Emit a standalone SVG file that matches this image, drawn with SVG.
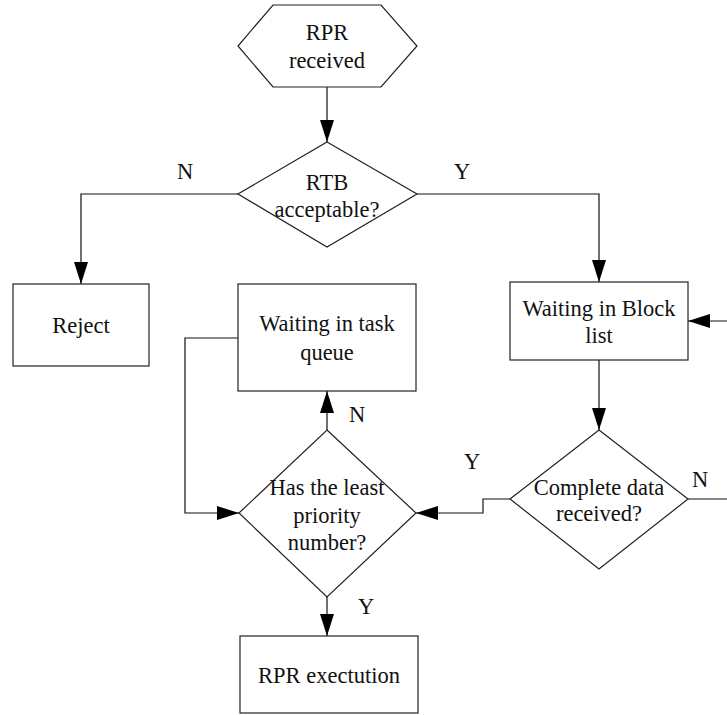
<svg xmlns="http://www.w3.org/2000/svg" width="727" height="715" viewBox="0 0 727 715">
<style>
.s{fill:#fff;stroke:#222;stroke-width:1.2}
.c{fill:none;stroke:#111;stroke-width:1.2}
text{font-family:"Liberation Serif","Times New Roman","DejaVu Serif",serif;font-size:22.5px;fill:#111;text-anchor:middle}
</style>
<defs>
<marker id="a" markerUnits="userSpaceOnUse" markerWidth="22" markerHeight="14" refX="22" refY="7" orient="auto">
<path d="M0,0 L22,7 L0,14 z" fill="#000"/>
</marker>
</defs>
<rect width="727" height="715" fill="#fff"/>
<g id="connectors">
<path class="c" d="M327,87 V142" marker-end="url(#a)"/>
<path class="c" d="M238,194 H81 V284" marker-end="url(#a)"/>
<path class="c" d="M417,194 H599 V282" marker-end="url(#a)"/>
<path class="c" d="M599,360 V430" marker-end="url(#a)"/>
<path class="c" d="M510,499 H483 V513 H416" marker-end="url(#a)"/>
<path class="c" d="M688,499 H727"/>
<path class="c" d="M727,321 H688" marker-end="url(#a)"/>
<path class="c" d="M327,430 V391" marker-end="url(#a)"/>
<path class="c" d="M238,338 H185 V513 H239" marker-end="url(#a)"/>
<path class="c" d="M327,597 V636" marker-end="url(#a)"/>
<text x="185" y="179">N</text>
<text x="462" y="179">Y</text>
<text x="357" y="422">N</text>
<text x="472" y="469">Y</text>
<text x="700" y="487">N</text>
<text x="366" y="614">Y</text>
</g>
<g id="start">
<polygon class="s" points="273,5 381,5 417,46 381,87 273,87 238,46"/>
<text x="327" y="40">RPR</text>
<text x="327" y="68">received</text>
</g>
<g id="rtb">
<polygon class="s" points="327,142 417,194 327,247 238,194"/>
<text x="327" y="190">RTB</text>
<text x="327" y="217">acceptable?</text>
</g>
<g id="reject">
<rect class="s" x="13" y="284" width="136" height="82"/>
<text x="81" y="333">Reject</text>
</g>
<g id="taskqueue">
<rect class="s" x="238" y="284" width="178" height="107"/>
<text x="327" y="331">Waiting in task</text>
<text x="327" y="360">queue</text>
</g>
<g id="blocklist">
<rect class="s" x="510" y="282" width="178" height="78"/>
<text x="599" y="316">Waiting in Block</text>
<text x="599" y="343">list</text>
</g>
<g id="priority">
<polygon class="s" points="327,430 416,513 327,597 239,513"/>
<text x="327" y="495">Has the least</text>
<text x="327" y="523">priority</text>
<text x="327" y="550">number?</text>
</g>
<g id="complete">
<polygon class="s" points="599,430 688,499 599,569 510,499"/>
<text x="599" y="495">Complete data</text>
<text x="599" y="521">received?</text>
</g>
<g id="execution">
<rect class="s" x="240" y="636" width="178" height="77"/>
<text x="329" y="683">RPR exectution</text>
</g>
</svg>
